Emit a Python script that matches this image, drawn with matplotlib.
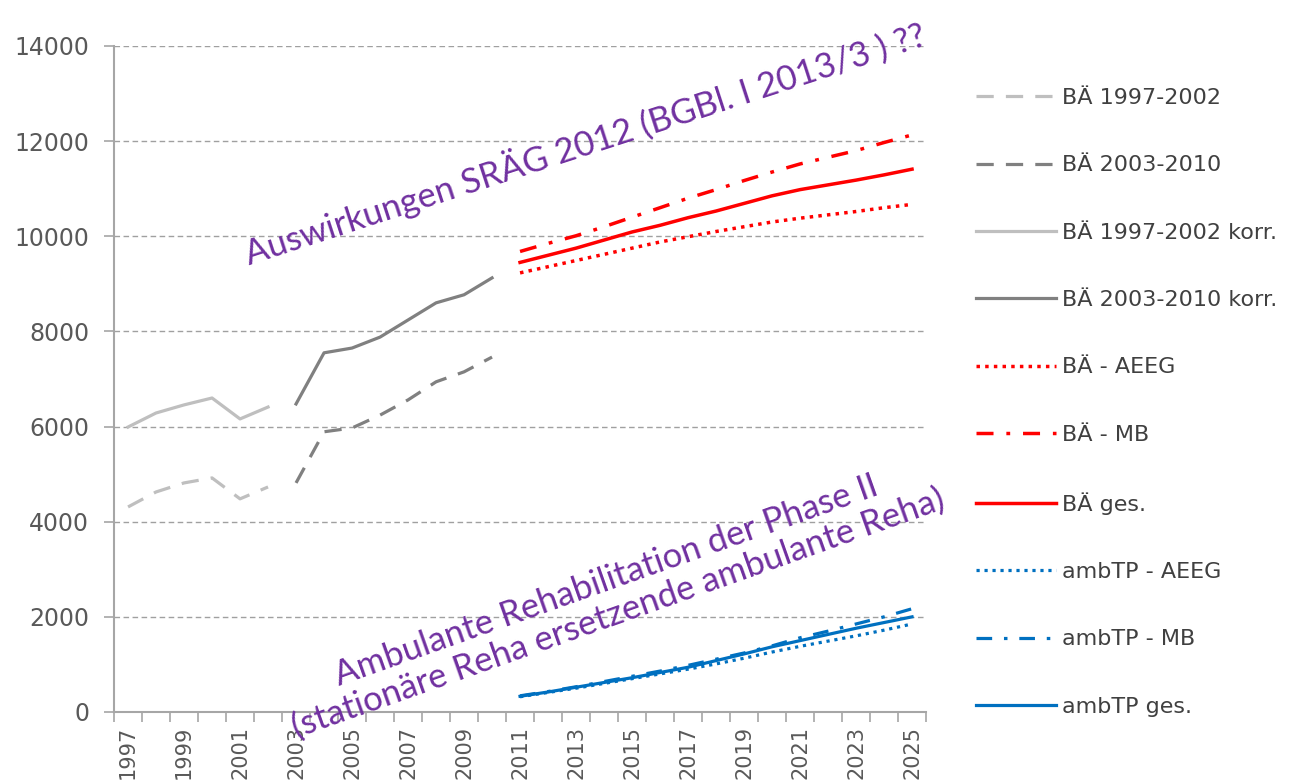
import numpy as np
import matplotlib
matplotlib.use('Agg')
import matplotlib.pyplot as plt

years = list(range(1997, 2026))
years_hist1 = [1997, 1998, 1999, 2000, 2001, 2002]
years_hist2 = [2003, 2004, 2005, 2006, 2007, 2008, 2009, 2010]
years_prog = list(range(2011, 2026))

ba_97_02 = [4310, 4625, 4815, 4920, 4480, 4730]
ba_03_10 = [4815, 5890, 5970, 6240, 6560, 6940, 7150, 7460]
ba_97_02_korr = [5990, 6285, 6455, 6600, 6160, 6410]
ba_03_10_korr = [6475, 7550, 7650, 7880, 8240, 8600, 8770, 9125]

ba_aeeg = [9230, 9360, 9490, 9620, 9750, 9880, 9990, 10100, 10200, 10300, 10380, 10450, 10520, 10600, 10670]
ba_mb = [9680, 9850, 10010, 10200, 10400, 10600, 10800, 10980, 11170, 11350, 11520, 11660, 11800, 11970, 12130]
ba_ges = [9450, 9600, 9750, 9920, 10090, 10230, 10390, 10530, 10690, 10850, 10980, 11080, 11180, 11290, 11410]

amb_aeeg = [320, 410, 500, 600, 700, 800, 900, 1010, 1130, 1260, 1380, 1490, 1600, 1720, 1850]
amb_mb = [340, 430, 530, 640, 750, 860, 980, 1110, 1240, 1390, 1560, 1700, 1850, 2000, 2170]
amb_ges = [330, 420, 520, 620, 720, 830, 940, 1080, 1220, 1370, 1500, 1630, 1760, 1880, 2000]

labels = ['BÄ 1997-2002', 'BÄ 2003-2010', 'BÄ 1997-2002 korr.', 'BÄ 2003-2010 korr.',
          'BÄ - AEEG', 'BÄ - MB', 'BÄ ges.', 'ambTP - AEEG', 'ambTP - MB', 'ambTP ges.']

light = '#BFBFBF'
dark = '#808080'
red = '#FF0000'
blue = '#0070C0'
purple = '#7030A0'

dashed = (0, (5.4, 3.8))
dotted = (0, (1.0, 1.5))
dashdot = (0, (4.9, 3.7, 1.1, 3.7))


def idx(ys):
    return [y - years[0] for y in ys]


fig = plt.figure(figsize=(12.93, 7.83), dpi=100)
ax = fig.add_axes([0.0882, 0.0907, 0.6280, 0.8506])

lw = 2.3
ax.plot(idx(years_hist1), ba_97_02, color=light, lw=lw, ls=dashed, label=labels[0])
ax.plot(idx(years_hist2), ba_03_10, color=dark, lw=lw, ls=dashed, label=labels[1])
ax.plot(idx(years_hist1), ba_97_02_korr, color=light, lw=lw, label=labels[2])
ax.plot(idx(years_hist2), ba_03_10_korr, color=dark, lw=lw, label=labels[3])
ax.plot(idx(years_prog), ba_aeeg, color=red, lw=2.5, ls=dotted, label=labels[4])
ax.plot(idx(years_prog), ba_mb, color=red, lw=2.5, ls=dashdot, label=labels[5])
ax.plot(idx(years_prog), ba_ges, color=red, lw=2.5, label=labels[6])
ax.plot(idx(years_prog), amb_aeeg, color=blue, lw=2.3, ls=dotted, label=labels[7])
ax.plot(idx(years_prog), amb_mb, color=blue, lw=2.3, ls=dashdot, label=labels[8])
ax.plot(idx(years_prog), amb_ges, color=blue, lw=2.3, label=labels[9])

ax.set_xlim(-0.5, len(years) - 0.5)
ax.set_ylim(0, 14000)
ax.set_yticks(range(0, 14001, 2000))
ax.yaxis.grid(True, color='#A0A0A0', ls=(0, (4, 2.5)), lw=1)
ax.set_axisbelow(True)

ax.set_xticks(range(0, len(years), 2))
ax.set_xticklabels([str(y) for y in years[::2]], rotation=90)
ax.set_xticks(np.arange(-0.5, len(years), 1), minor=True)
ax.tick_params(axis='x', which='major', length=0, pad=10, labelsize=15)
ax.tick_params(axis='x', which='minor', length=7, width=1.2, color='#A6A6A6', direction='out')
ax.tick_params(axis='y', length=7, width=1.2, color='#A6A6A6', pad=11, labelsize=17)
ax.tick_params(labelcolor='#595959')

for s in ['top', 'right']:
    ax.spines[s].set_visible(False)
for s in ['left', 'bottom']:
    ax.spines[s].set_color('#A6A6A6')
    ax.spines[s].set_linewidth(1.5)

leg = fig.legend(loc='upper left', bbox_to_anchor=(0.739, 0.913), frameon=False,
                 fontsize=16, labelcolor='#404040', handlelength=3.6, handletextpad=0.3,
                 labelspacing=2.13)

ax.text(16.3, 11950, 'Auswirkungen SRÄG 2012 (BGBl. I 2013/3 ) ??', color=purple,
        fontsize=25, rotation=18, rotation_mode='anchor', ha='center', va='center',
        family=['Lato', 'DejaVu Sans'])
ax.text(17.3, 2420, 'Ambulante Rehabilitation der Phase II\n(stationäre Reha ersetzende ambulante Reha)',
        color=purple, fontsize=25, rotation=19.5, rotation_mode='anchor', ha='center', va='center',
        multialignment='center', linespacing=1.1,
        family=['Lato', 'DejaVu Sans'])

fig.savefig('out.png', dpi=100)
